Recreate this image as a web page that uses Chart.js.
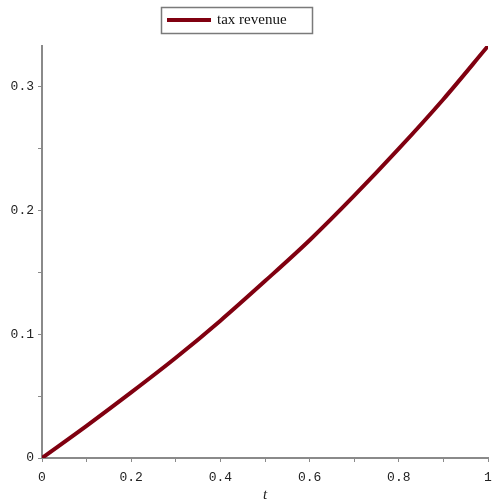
<!DOCTYPE html>
<html>
<head>
<meta charset="utf-8">
<script src="https://cdn.jsdelivr.net/npm/chart.js@4"></script>
<style>
  html, body { margin: 0; padding: 0; background: #fff; }
  #wrap { width: 492px; height: 504px; }
</style>
</head>
<body>
<div id="wrap"><canvas id="myChart"></canvas></div>
<script>
// values
const tValues = [0, 0.1, 0.2, 0.3, 0.4, 0.5, 0.6, 0.7, 0.8, 0.9, 1];
const revenue = [0, 0.026, 0.053, 0.081, 0.111, 0.143, 0.176, 0.212, 0.250, 0.290, 0.333];
const seriesName = 'tax revenue';
const xMajor = [0, 0.2, 0.4, 0.6, 0.8, 1];
const yMajor = [0, 0.1, 0.2, 0.3];

const lineColor = 'rgb(128, 0, 16)';
const axisColor = '#8a8a8a';
const tickFont = { family: 'Liberation Mono', size: 13 };

function isMajor(v, list) {
  return list.some(m => Math.abs(m - v) < 1e-6);
}

function fmt(v) {
  return v === 0 ? '0' : (v === 1 ? '1' : String(+v.toFixed(2)));
}

// legend box drawn at the top, like the original
const boxLegend = {
  id: 'boxLegend',
  afterDraw(chart) {
    const c = chart.ctx;
    c.save();
    c.strokeStyle = '#7a7a7a';
    c.lineWidth = 1.5;
    c.strokeRect(161.5, 7.5, 151, 26);
    c.strokeStyle = lineColor;
    c.lineWidth = 4;
    c.beginPath();
    c.moveTo(167, 20);
    c.lineTo(211, 20);
    c.stroke();
    c.fillStyle = '#111';
    c.font = '15px "Liberation Serif"';
    c.textBaseline = 'middle';
    c.fillText(chart.data.datasets[0].label, 217, 20);
    c.restore();
  }
};

const ctx = document.getElementById('myChart');
const chart = new Chart(ctx, {
  type: 'line',
  data: {
    datasets: [
      {
        label: seriesName,
        data: tValues.map((t, i) => ({ x: t, y: revenue[i] })),
        borderColor: lineColor,
        borderWidth: 4,
        pointRadius: 0,
        cubicInterpolationMode: 'monotone',
        fill: false,
      },
    ],
  },
  options: {
    animation: false,
    responsive: true,
    maintainAspectRatio: false,
    layout: { padding: { top: 46, right: 4, left: 0, bottom: 0 } },
    plugins: {
      legend: { display: false },
      tooltip: { enabled: false },
    },
    scales: {
      x: {
        type: 'linear',
        min: 0,
        max: 1,
        afterBuildTicks(scale) {
          scale.ticks = tValues.map(v => ({ value: v }));
        },
        afterFit(scale) {
          scale.height = 46;
          scale.paddingLeft = 0;
          scale.paddingRight = 0;
        },
        border: { color: axisColor, width: 2 },
        grid: {
          drawOnChartArea: false,
          drawTicks: true,
          tickLength: 4,
          color: axisColor,
        },
        ticks: {
          autoSkip: false,
          maxRotation: 0,
          padding: 8,
          color: '#222',
          font: tickFont,
          callback: v => isMajor(v, xMajor) ? fmt(v) : '',
        },
        title: {
          display: true,
          text: 't',
          color: '#222',
          padding: { top: 0, bottom: 0 },
          font: { family: 'Liberation Serif', size: 15, style: 'italic' },
        },
      },
      y: {
        type: 'linear',
        min: 0,
        max: 0.333,
        afterBuildTicks(scale) {
          scale.ticks = [0, 0.05, 0.1, 0.15, 0.2, 0.25, 0.3].map(v => ({ value: v }));
        },
        afterFit(scale) {
          scale.width = 42;
          scale.paddingTop = 0;
          scale.paddingBottom = 0;
        },
        border: { color: axisColor, width: 2 },
        grid: {
          drawOnChartArea: false,
          drawTicks: true,
          tickLength: 4,
          color: axisColor,
        },
        ticks: {
          autoSkip: false,
          padding: 4,
          color: '#222',
          font: tickFont,
          callback: v => isMajor(v, yMajor) ? fmt(v) : '',
        },
      },
    },
  },
  plugins: [boxLegend],
});
</script>
</body>
</html>
